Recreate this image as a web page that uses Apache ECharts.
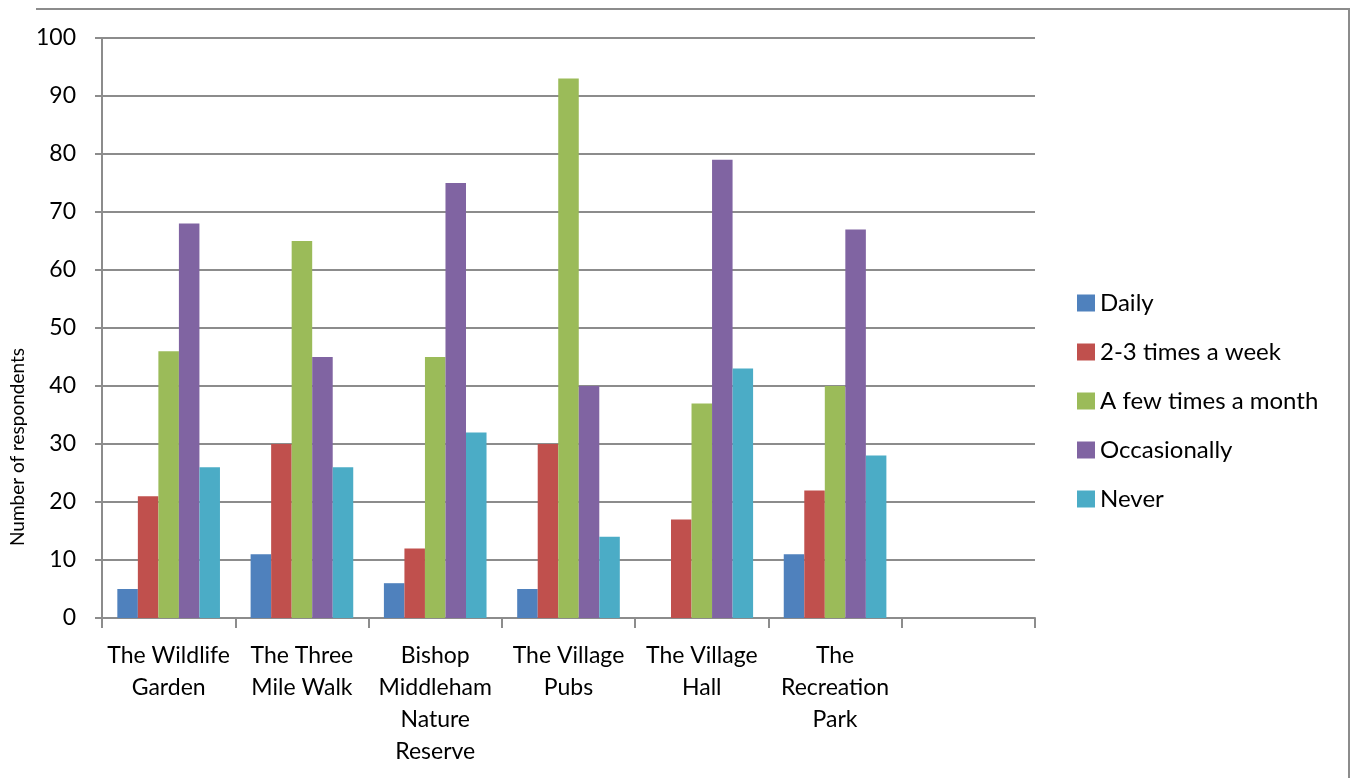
<!DOCTYPE html>
<html>
<head>
<meta charset="utf-8">
<script src="https://cdn.jsdelivr.net/npm/echarts@6/dist/echarts.min.js"></script>
<style>html,body{margin:0;padding:0;background:#fff;}#c{width:1352px;height:778px;}</style>
</head>
<body>
<div id="c"></div>
<script>
const categories = ['The Wildlife\nGarden', 'The Three\nMile Walk', 'Bishop\nMiddleham\nNature\nReserve', 'The Village\nPubs', 'The Village\nHall', 'The\nRecreation\nPark', ''];
const seriesNames = ['Daily', '2-3 times a week', 'A few times a month', 'Occasionally', 'Never'];
const daily = [5, 11, 6, 5, 0, 11, null];
const twoThreeWeek = [21, 30, 12, 30, 17, 22, null];
const fewMonth = [46, 65, 45, 93, 37, 40, null];
const occasionally = [68, 45, 75, 40, 79, 67, null];
const never = [26, 26, 32, 14, 43, 28, null];
const yTicks = [0, 10, 20, 30, 40, 50, 60, 70, 80, 90, 100];
const colors = ['#4F81BD', '#C0504D', '#9BBB59', '#8064A2', '#4BACC6'];

const values = [daily, twoThreeWeek, fewMonth, occasionally, never];
const font = 'Lato, "Open Sans", sans-serif';
const chart = echarts.init(document.getElementById('c'), null, {renderer: 'canvas'});
chart.setOption({
  animation: false,
  backgroundColor: '#fff',
  color: colors,
  textStyle: {fontFamily: font, color: '#000'},
  grid: {left: 102, right: 317, top: 38, bottom: 160, containLabel: false},
  graphic: [
    {type: 'polyline', shape: {points: [[36, 9], [1349, 9], [1349, 778]]}, style: {stroke: '#8c8c8c', lineWidth: 2, fill: null}, silent: true},
    {type: 'text', x: 18, y: 447, rotation: Math.PI / 2, style: {text: 'Number of respondents', font: '19px ' + font, fill: '#000', align: 'center', verticalAlign: 'middle'}}
  ],
  legend: {
    orient: 'vertical', left: 1072, top: 286,
    itemWidth: 18, itemHeight: 17, itemGap: 25,
    icon: 'rect',
    textStyle: {fontSize: 24, fontFamily: font, color: '#000', lineHeight: 24},
    data: seriesNames
  },
  xAxis: {
    type: 'category', data: categories,
    axisLine: {lineStyle: {color: '#8c8c8c', width: 2}},
    axisTick: {show: true, length: 10, interval: 0, alignWithLabel: false, lineStyle: {color: '#8c8c8c', width: 2}},
    axisLabel: {interval: 0, fontSize: 23, fontFamily: font, color: '#000', lineHeight: 32, margin: 22},
    splitLine: {show: false}
  },
  yAxis: {
    type: 'value', min: yTicks[0], max: yTicks[yTicks.length - 1], interval: yTicks[1] - yTicks[0],
    axisLine: {show: true, lineStyle: {color: '#8c8c8c', width: 2}},
    axisTick: {show: true, length: 7, lineStyle: {color: '#8c8c8c', width: 2}},
    axisLabel: {fontSize: 23, fontFamily: font, color: '#000', margin: 26},
    splitLine: {show: true, lineStyle: {color: '#8c8c8c', width: 2}}
  },
  series: seriesNames.map((n, i) => ({
    name: n, type: 'bar', data: values[i],
    barGap: '0%', barCategoryGap: '23%',
    itemStyle: {color: colors[i]}
  }))
});
</script>
</body>
</html>
